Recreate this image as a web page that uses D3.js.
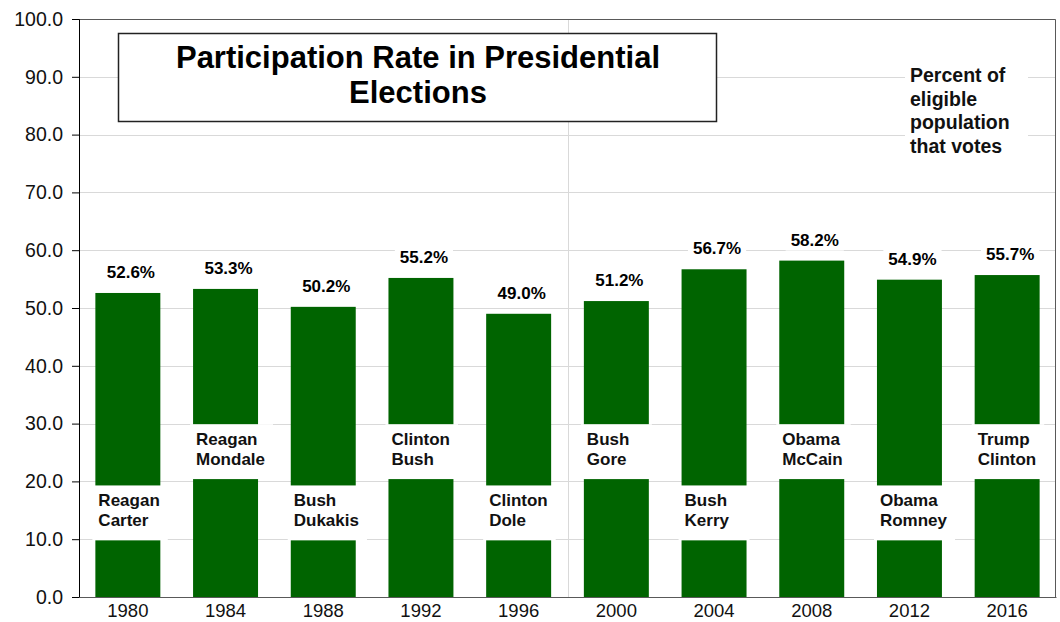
<!DOCTYPE html>
<html>
<head>
<meta charset="utf-8">
<script src="https://cdn.jsdelivr.net/npm/d3@7"></script>
<style>
    body { margin: 0; background: #fff; }
    svg { display: block; font-family: "Liberation Sans", Arial, sans-serif; }
</style>
</head>
<body>
<svg id="chart" width="1060" height="622"></svg>
<script>
// Chart values
const years = ["1980", "1984", "1988", "1992", "1996", "2000", "2004", "2008", "2012", "2016"];
const rates = [52.6, 53.3, 50.2, 55.2, 49.0, 51.2, 56.7, 58.2, 54.9, 55.7];
const winners = ["Reagan", "Reagan", "Bush", "Clinton", "Clinton", "Bush", "Bush", "Obama", "Obama", "Trump"];
const losers = ["Carter", "Mondale", "Dukakis", "Bush", "Dole", "Gore", "Kerry", "McCain", "Romney", "Clinton"];
const yTicks = [0, 10, 20, 30, 40, 50, 60, 70, 80, 90, 100];
const titleLines = ["Participation Rate in Presidential", "Elections"];
const noteLines = ["Percent of", "eligible", "population", "that votes"];

const GREEN = "#006400";
const GRID = "#d9d9d9";

const margin = { top: 19, right: 4, bottom: 25, left: 79 };
const svg = d3.select("#chart");
const width = +svg.attr("width");
const height = +svg.attr("height");

const x = d3.scaleBand()
    .domain(years)
    .range([margin.left, width - margin.right])
    .paddingInner(0.335)
    .paddingOuter(0.1675);

const y = d3.scaleLinear()
    .domain([0, 100])
    .range([height - margin.bottom, margin.top]);

// gridlines
svg.append("g")
    .selectAll("line")
    .data(yTicks.slice(1))
    .join("line")
    .attr("x1", margin.left)
    .attr("x2", width - margin.right)
    .attr("y1", d => Math.round(y(d)) + 0.5)
    .attr("y2", d => Math.round(y(d)) + 0.5)
    .attr("stroke", GRID);

// divider between 1996 and 2000
const midX = Math.round(x("2000") - x.step() * x.paddingInner() / 2) + 0.5;
svg.append("line")
    .attr("x1", midX).attr("x2", midX)
    .attr("y1", y(100)).attr("y2", y(0))
    .attr("stroke", GRID);

// frame on top / right
svg.append("path")
    .attr("d", `M${margin.left},${Math.round(y(100)) + 0.5}H${width - margin.right - 0.5}V${y(0)}`)
    .attr("fill", "none")
    .attr("stroke", "#595959");

// bars
svg.append("g")
    .selectAll("rect")
    .data(years)
    .join("rect")
    .attr("x", d => x(d))
    .attr("width", x.bandwidth())
    .attr("y", (d, i) => y(rates[i]))
    .attr("height", (d, i) => y(0) - y(rates[i]))
    .attr("fill", GREEN);

// axes
const yAxis = svg.append("g")
    .attr("transform", `translate(${margin.left},0)`)
    .call(d3.axisLeft(y).tickValues(yTicks).tickFormat(d3.format(".1f")).tickSize(7).tickPadding(9));
yAxis.selectAll("text").attr("font-size", 19.5).attr("fill", "#111").attr("font-family", null);
yAxis.select(".domain").attr("stroke", "#000");
yAxis.selectAll(".tick line").attr("stroke", "#000");

const xAxis = svg.append("g")
    .attr("transform", `translate(0,${y(0)})`)
    .call(d3.axisBottom(x).tickSize(0).tickPadding(7));
xAxis.selectAll("text").attr("font-size", 18.5).attr("fill", "#111").attr("font-family", null);
xAxis.select(".domain").attr("stroke", "#595959");

// value labels with white backing
const valueFmt = d => d.toFixed(1) + "%";
years.forEach((yr, i) => {
    const g = svg.append("g")
        .attr("transform", `translate(${x(yr) + x.bandwidth() / 2 + 3},${y(rates[i]) - 21})`);
    const t = g.append("text")
        .attr("text-anchor", "middle")
        .attr("dy", "0.36em")
        .attr("font-size", 17)
        .attr("font-weight", "bold")
        .text(valueFmt(rates[i]));
    const w = t.node().getComputedTextLength();
    g.insert("rect", "text")
        .attr("x", -w / 2 - 5).attr("y", -11)
        .attr("width", w + 10).attr("height", 22)
        .attr("fill", "#fff");
});

// candidate labels: alternate between a low and a high band
const lowBand = [9.8, 19.3];
const highBand = [20.4, 29.9];
years.forEach((yr, i) => {
    const band = i % 2 === 0 ? lowBand : highBand;
    const top = y(band[1]);
    const left = x(yr);
    const g = svg.append("g");
    const t = g.append("text")
        .attr("font-size", 17)
        .attr("font-weight", "bold")
        .attr("fill", "#111");
    t.append("tspan").attr("x", left + 3).attr("y", top + 21).text(winners[i]);
    t.append("tspan").attr("x", left + 3).attr("y", top + 40.5).text(losers[i]);
    const textRight = left + 3 + d3.max(t.selectAll("tspan").nodes(), n => n.getComputedTextLength());
    const right = Math.max(left + x.bandwidth() + 3, textRight + 8);
    g.insert("rect", "text")
        .attr("x", left - 3)
        .attr("y", top)
        .attr("width", right - left + 3)
        .attr("height", y(band[0]) - top)
        .attr("fill", "#fff");
});

// title box
svg.append("rect")
    .attr("x", 118.5).attr("y", 33.5)
    .attr("width", 598).attr("height", 88)
    .attr("fill", "#fff")
    .attr("stroke", "#222")
    .attr("stroke-width", 1.5);
svg.append("text")
    .attr("text-anchor", "middle")
    .attr("font-size", 31)
    .attr("font-weight", "bold")
    .selectAll("tspan")
    .data(titleLines)
    .join("tspan")
    .attr("x", 418)
    .attr("y", (d, i) => 68 + i * 35)
    .text(d => d);

// side note
svg.append("rect")
    .attr("x", 905).attr("y", 61)
    .attr("width", 123).attr("height", 96)
    .attr("fill", "#fff");
svg.append("text")
    .attr("font-size", 19.5)
    .attr("font-weight", "bold")
    .attr("fill", "#111")
    .selectAll("tspan")
    .data(noteLines)
    .join("tspan")
    .attr("x", 910)
    .attr("y", (d, i) => 82 + i * 23.5)
    .text(d => d);
</script>
</body>
</html>
